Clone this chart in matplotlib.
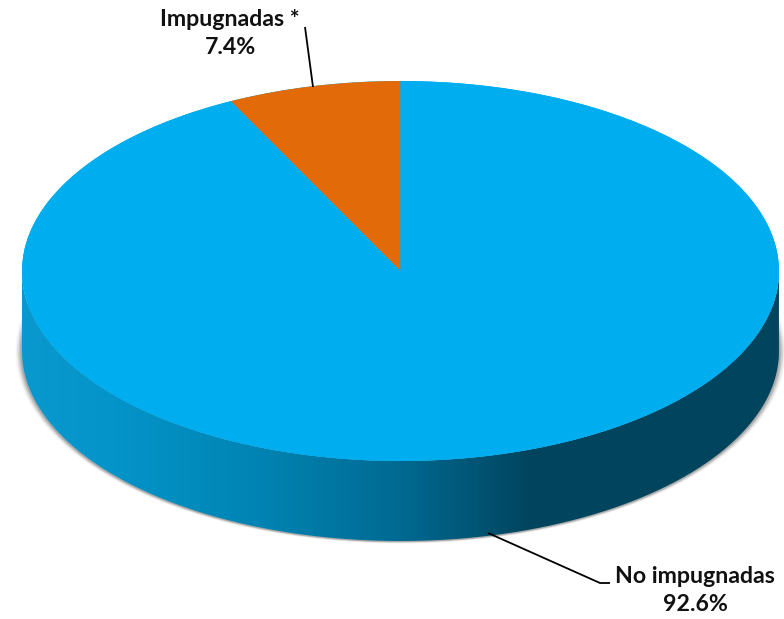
import matplotlib
matplotlib.use('Agg')
import matplotlib.pyplot as plt
from matplotlib.colors import LinearSegmentedColormap
from matplotlib.patches import Ellipse, PathPatch
from matplotlib.path import Path
import numpy as np

labels = ['Impugnadas *', 'No impugnadas']
shares = [7.4, 92.6]
colors = ['#E26A08', '#00AEEF']

# side wall shading, left to right
wall_stops = [0.0, 0.12, 0.32, 0.50, 0.67, 1.0]
wall_colors = ['#0A99CF', '#0494C9', '#0083B2', '#006A92', '#00455F', '#00445E']

W, H = 784, 619
CX, CY = 400.5, 271.0
RX, RY = 378.5, 190.0
DEPTH = 80.0 / RY


def to_data(px, py):
    return (px - CX) / RX, (CY - py) / RY


fig = plt.figure(figsize=(W / 100, H / 100), dpi=100)
ax = fig.add_axes([0, 0, 1, 1])

# soft shadow behind the wall
for grow, alpha in zip([6.5, 5.5, 4.5, 3.5, 2.5, 1.5], [0.03, 0.04, 0.05, 0.07, 0.09, 0.10]):
    ax.add_patch(Ellipse((0, -DEPTH - 0.5 / RY), 2 + 2 * grow / RX, 2 + 0.6 * grow / RY,
                         fc='black', ec='none', alpha=alpha, zorder=1))

# side wall
t = np.linspace(np.pi, 2 * np.pi, 300)
xs = np.concatenate([np.cos(t), np.cos(t[::-1])])
ys = np.concatenate([np.sin(t), np.sin(t[::-1]) - DEPTH])
wall = PathPatch(Path(np.column_stack([xs, ys])), fc='none', ec='none', transform=ax.transData)
ax.add_patch(wall)
cmap = LinearSegmentedColormap.from_list('wall', list(zip(wall_stops, wall_colors)))
im = ax.imshow(np.linspace(0, 1, 512).reshape(1, -1), cmap=cmap, aspect='auto',
               extent=(-1, 1, -1 - DEPTH, 0), zorder=2)
im.set_clip_path(wall)

# top face, base ellipse hides the seam between wedges
ax.add_patch(Ellipse((0, 0), 2, 2, fc=colors[1], ec='none', zorder=2.5))
wedges, _ = ax.pie(shares, colors=colors, startangle=90, counterclock=True, radius=1,
                   wedgeprops={'linewidth': 0, 'zorder': 3})

ax.set_aspect('auto')
x0, y0 = to_data(0, H)
x1, y1 = to_data(W, 0)
ax.set_xlim(x0, x1)
ax.set_ylim(y0, y1)
ax.axis('off')

# leader lines
for pts in ([(305, 27), (313, 87)], [(488, 533), (600, 583), (610, 583)]):
    lx, ly = zip(*[to_data(*p) for p in pts])
    ax.plot(lx, ly, color='black', lw=1.3, zorder=4, solid_capstyle='butt')

# labels
for name, share, px, py in zip(labels, shares, [230, 695], [33.5, 590.5]):
    tx, ty = to_data(px, py)
    ax.text(tx, ty, '%s\n%.1f%%' % (name, share), ha='center', va='center', family='Lato',
            fontweight='bold', fontsize=16.7, color='#111111', linespacing=1.39, zorder=5)

fig.savefig('out.png', dpi=100)
